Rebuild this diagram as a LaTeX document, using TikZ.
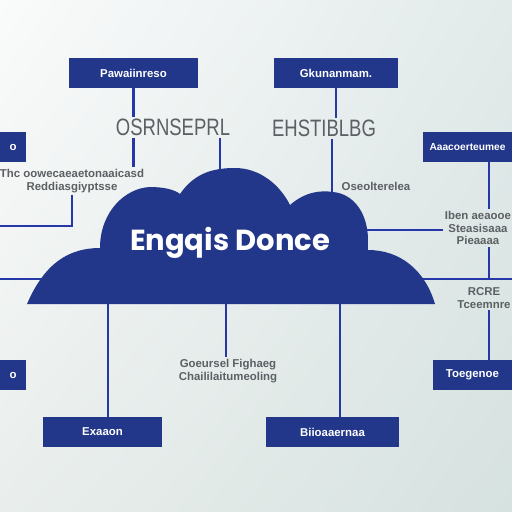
\documentclass[tikz,border=0pt]{standalone}
\usepackage{fontspec}
\usepackage{graphicx}
\usetikzlibrary{shadings}
\setsansfont{Liberation Sans}
\newfontfamily\cloudfont{Poppins}
\definecolor{navy}{RGB}{34,54,138}
\definecolor{wire}{RGB}{38,56,168}
\definecolor{ink}{RGB}{92,96,100}
\definecolor{bgul}{RGB}{250,251,251}
\definecolor{bgur}{RGB}{226,234,234}
\definecolor{bgll}{RGB}{233,238,236}
\definecolor{bglr}{RGB}{214,226,224}
\newcommand{\narrow}[1]{\scalebox{0.78}[1]{#1}}
\tikzset{
  box/.style={fill=navy,minimum height=0.6cm,inner sep=0pt,text=white,
    font=\sffamily\bfseries\fontsize{6.5}{7}\selectfont},
  link/.style={draw=wire,line width=1.6pt},
  lbl/.style={text=ink,inner sep=1pt,align=center,
    font=\sffamily\bfseries\fontsize{6.5}{7.2}\selectfont},
  biglbl/.style={text=ink,inner sep=1pt,font=\sffamily\fontsize{13.5}{13.5}\selectfont}
}
\begin{document}
\begin{tikzpicture}[x=0.02cm,y=-0.02cm]
\useasboundingbox (0,0) rectangle (512,512);
\clip (0,0) rectangle (512,512);
% Background
\shade[upper left=bgul,upper right=bgur,lower left=bgll,lower right=bglr]
  (0,0) rectangle (512,512);
% Points in the cloud and at the edges
\coordinate (c1) at (220,190);
\coordinate (c2) at (332,210);
\coordinate (c3) at (350,230);
\coordinate (c4) at (400,279);
\coordinate (c5) at (108,290);
\coordinate (c6) at (226,290);
\coordinate (c7) at (340,290);
\coordinate (c8) at (60,279);
\coordinate (e1) at (0,226);
\coordinate (e2) at (0,279);
\coordinate (e3) at (512,279);
% Boxes
\draw (133.5,73) node(b1)[box,minimum width=2.58cm] {Pawaiinreso};
\draw (336,73) node(b2)[box,minimum width=2.48cm] {Gkunanmam.};
\draw (13,147) node(b3)[box,minimum width=0.52cm] {o};
\draw (467.5,147) node(b4)[box,minimum width=1.78cm,font=\sffamily\bfseries\fontsize{5.8}{7}\selectfont] {Aaacoerteumee};
\draw (13,375) node(b5)[box,minimum width=0.52cm] {o};
\draw (472.5,375) node(b6)[box,minimum width=1.58cm] {Toegenoe};
\draw (102.5,432) node(b7)[box,minimum width=2.38cm] {Exaaon};
\draw (332.5,432) node(b8)[box,minimum width=2.66cm] {Biioaaernaa};
% Labels
\draw (173,127) node(t1)[biglbl] {\narrow{OSRNSEPRL}};
\draw (324,128) node(t2)[biglbl] {\narrow{EHSTIBLBG}};
\draw (72,181) node(t3)[lbl] {Thc oowecaeaetonaaicasd\\Reddiasgiyptsse};
\draw (376,186) node(t4)[lbl] {Oseolterelea};
\draw (478,228) node(t5)[lbl] {Iben aeaooe\\Steasisaaa\\Pieaaaa};
\draw (484,298) node(t6)[lbl] {RCRE\\Tceemnre};
\draw (228,371) node(t7)[lbl] {Goeursel Fighaeg\\Chaililaitumeoling};
% Connectors top left
\draw[link] (b1) -- (b1 |- t1.north);
\draw[link] (t1.south -| b1) -- (t3.north -| b1);
\draw[link] (t1.south -| c1) -- (c1);
\draw[link] (t3.south) |- (e1);
% Connectors top middle
\draw[link] (b2) -- (b2 |- t2.north);
\draw[link] (t2.south -| c2) -- (c2);
% Connectors right
\coordinate (r1) at (489,0);
\draw[link] (b4.south -| r1) -- (t5.north -| r1);
\draw[link] (t5.south -| r1) -- (e3 -| r1);
\draw[link] (c4) -- (e3);
\draw[link] (c3) -- (t5.west |- c3);
\draw[link] (t6.south -| r1) -- (b6.north -| r1);
% Connectors left and bottom
\draw[link] (e2) -- (c8);
\draw[link] (c5) -- (b7.north -| c5);
\draw[link] (c6) -- (t7.north -| c6);
\draw[link] (c7) -- (b8.north -| c7);
% Cloud
\fill[navy] (27,304) .. controls (45,262) and (70,248) .. (100,248)
  .. controls (100,212) and (125,188) .. (150,187)
  .. controls (165,187) and (175,190) .. (180,194)
  .. controls (195,172) and (215,168) .. (235,168)
  .. controls (260,168) and (280,185) .. (290,205)
  .. controls (305,192) and (320,190) .. (333,192)
  .. controls (355,194) and (368,215) .. (368,240) -- (368,250)
  .. controls (400,250) and (425,270) .. (435,304) -- cycle;
\draw (230,243) node(cl)[text=white,font=\cloudfont\bfseries\fontsize{16.5}{16.5}\selectfont] {Engqis Donce};
\end{tikzpicture}
\end{document}
